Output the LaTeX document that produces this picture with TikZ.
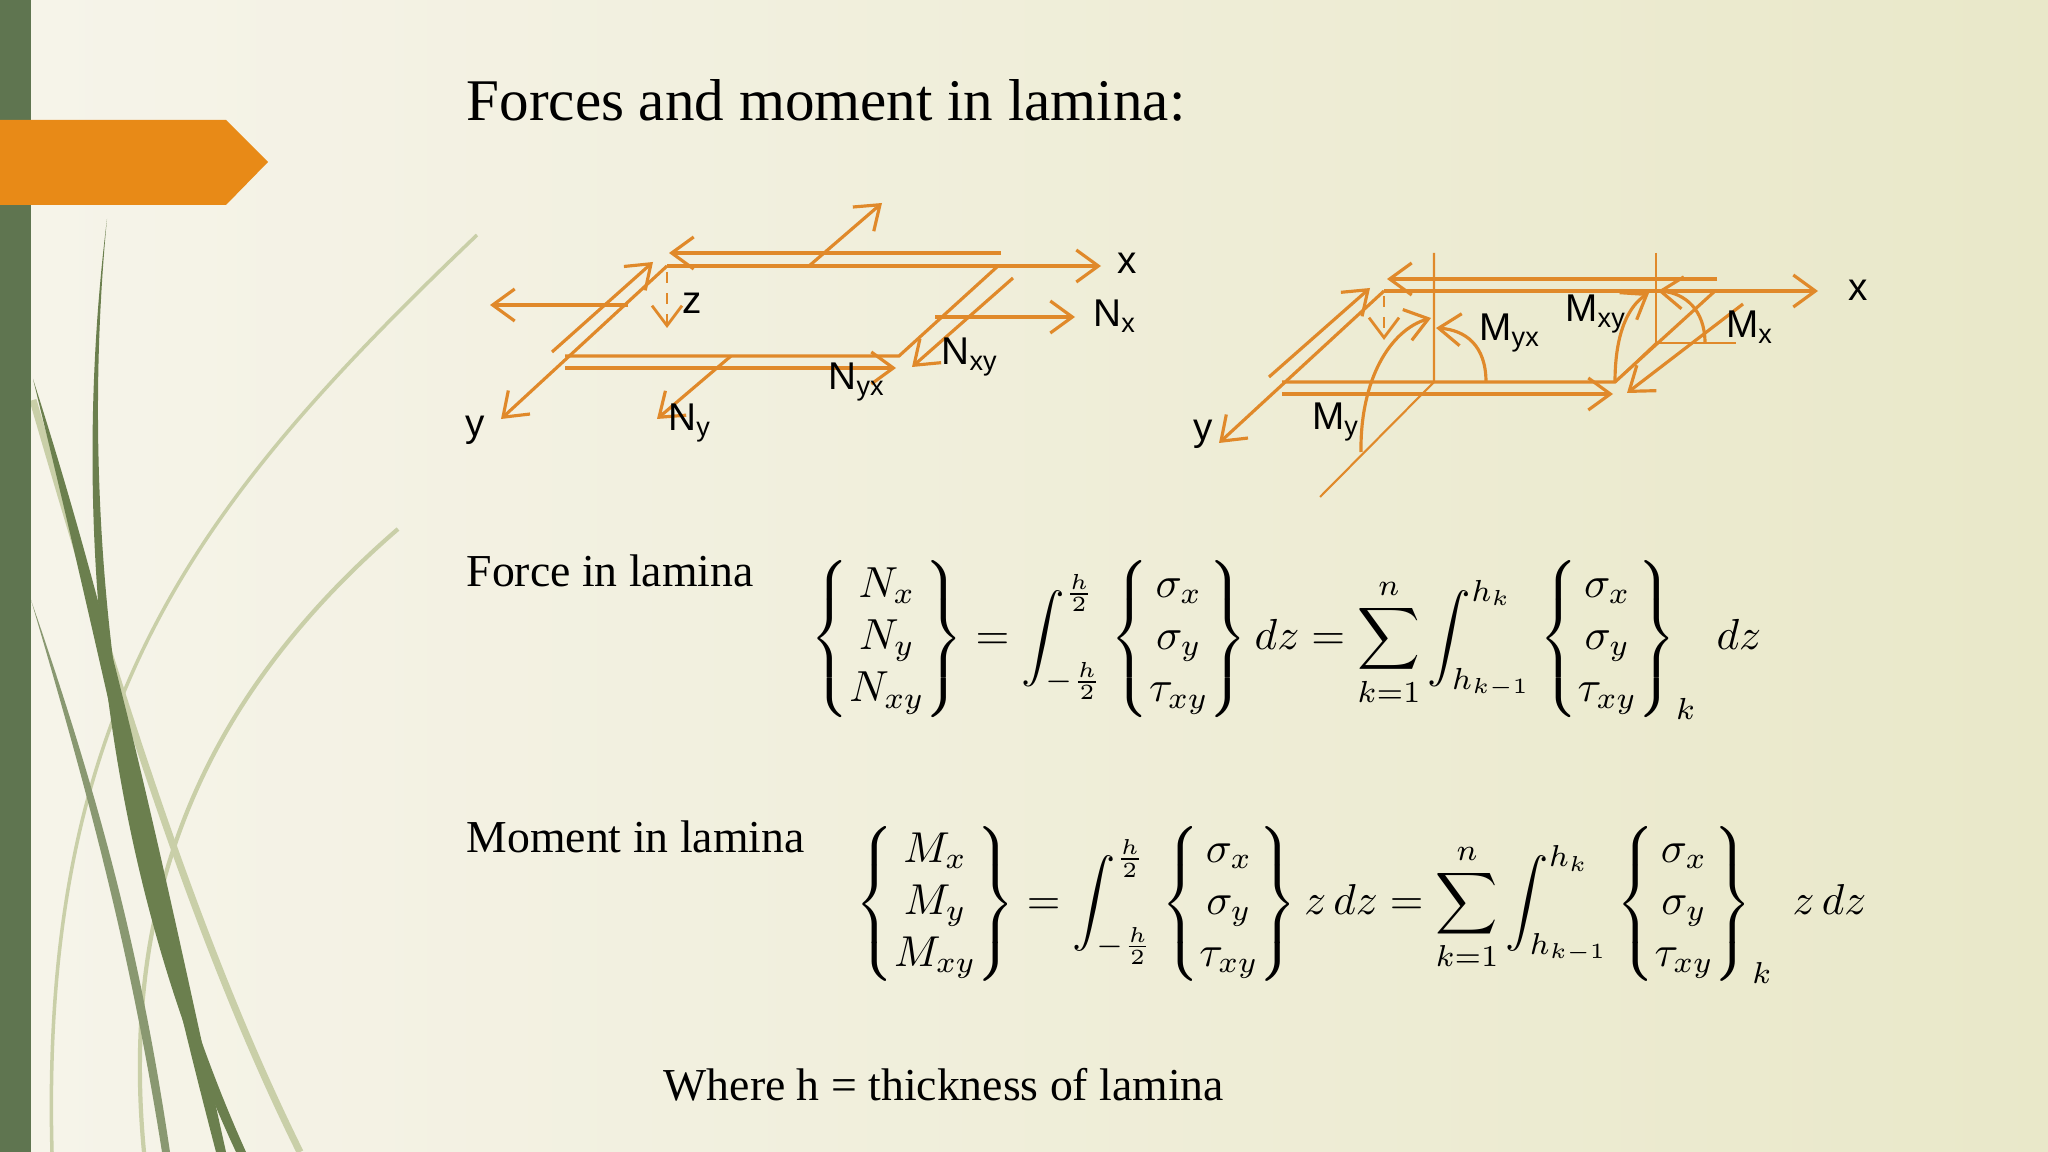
\documentclass[tikz,border=0pt]{standalone}
\usepackage{fontspec}
\usepackage{amsmath}
\usepackage{graphicx}
\setmainfont{Liberation Serif}
\newfontfamily\lblfont{Liberation Sans}
\usetikzlibrary{arrows.meta}
\definecolor{org}{HTML}{E0892A}
\definecolor{bar}{HTML}{5F7550}
\definecolor{tab}{HTML}{E88A17}
\definecolor{bgl}{HTML}{F6F4EA}
\definecolor{bgr}{HTML}{E9E8C9}
\definecolor{blade}{HTML}{6B7F4E}
\definecolor{bladel}{HTML}{C9CFA8}
\tikzset{
  ar/.style={draw=org,line width=0.9pt,-{Straight Barb[length=2.2mm,width=3.2mm]}},
  ln/.style={draw=org,line width=0.9pt},
  thin/.style={draw=org,line width=0.6pt},
  lbl/.style={font=\lblfont\fontsize{11}{13}\selectfont,inner sep=0pt},
  txt/.style={font=\fontsize{13}{15}\selectfont,inner sep=0pt,anchor=west},
}
\begin{document}
\begin{tikzpicture}[x=0.01cm,y=-0.01cm]
\useasboundingbox (0,0) rectangle (2048,1152);
\shade[left color=bgl,right color=bgr] (0,0) rectangle (2048,1152);
% decorative blades
\draw[bladel,line width=1pt] (477,235) .. controls (200,500) and (40,700) .. (52,1152);
\draw[bladel,line width=1.2pt] (398,529) .. controls (200,700) and (120,900) .. (144,1152);
\draw[bladel,line width=2pt] (33,400) .. controls (120,700) and (200,950) .. (300,1152);
\fill[blade] (107,219) .. controls (80,500) and (110,850) .. (246,1152) -- (236,1152) .. controls (95,850) and (72,500) .. (107,219);
\fill[blade] (33,379) .. controls (120,650) and (170,900) .. (226,1152) -- (216,1152) .. controls (150,900) and (100,650) .. (33,379);
\fill[blade!80] (31,600) .. controls (100,800) and (140,950) .. (170,1152) -- (162,1152) .. controls (130,950) and (90,800) .. (31,600);
\fill[bar] (0,0) rectangle (31,1152);
\fill[tab] (0,120) -- (226,120) -- (268,162) -- (226,205) -- (0,205) -- cycle;
% texts
\node[anchor=west,inner sep=0pt,font=\fontsize{16.8}{19}\selectfont] (title) at (466,100) {Forces and moment in lamina:};
\node[txt] (force) at (466,571) {Force in lamina};
\node[txt] (moment) at (466,837) {Moment in lamina};
\node[txt] (where) at (663,1085) {Where h = thickness of lamina};
% equations
\node[anchor=west,inner sep=0pt] (eqf) at (810,640) {\resizebox{9.5cm}{!}{$\displaystyle \left\{\begin{matrix}N_x\\N_y\\N_{xy}\end{matrix}\right\}=\int_{-\frac{h}{2}}^{\frac{h}{2}}\left\{\begin{matrix}\sigma_x\\\sigma_y\\\tau_{xy}\end{matrix}\right\}dz=\sum_{k=1}^{n}\int_{h_{k-1}}^{h_k}\left\{\begin{matrix}\sigma_x\\\sigma_y\\\tau_{xy}\end{matrix}\right\}_k\;dz$}};
\node[anchor=west,inner sep=0pt] (eqm) at (855,905) {\resizebox{10.1cm}{!}{$\displaystyle \left\{\begin{matrix}M_x\\M_y\\M_{xy}\end{matrix}\right\}=\int_{-\frac{h}{2}}^{\frac{h}{2}}\left\{\begin{matrix}\sigma_x\\\sigma_y\\\tau_{xy}\end{matrix}\right\}z\,dz=\sum_{k=1}^{n}\int_{h_{k-1}}^{h_k}\left\{\begin{matrix}\sigma_x\\\sigma_y\\\tau_{xy}\end{matrix}\right\}_k\;z\,dz$}};
% ---- left diagram
\coordinate (A) at (667,266); \coordinate (B) at (998,266);
\coordinate (C) at (899,356); \coordinate (D) at (565,356);
\coordinate (xe) at (1101,266); \coordinate (ye) at (501,419);
\draw[ar] (A) -- (xe);
\draw[ln] (B) -- (C) -- (D);
\draw[ar] (A) -- (ye);
\draw[ar] (1001,253) -- (669,253);
\draw[ar] (809,266) -- (882,203);
\draw[ar] (552,352) -- (653,262);
\draw[ar] (628,305) -- (490,305);
\draw[org,line width=0.8pt,dashed,-{Straight Barb[length=2mm,width=3mm]}] (667,272) -- (667,328);
\draw[ar] (565,368) -- (896,368);
\draw[ar] (731,356) -- (657,419);
\draw[ar] (1013,278) -- (912,367);
\draw[ar] (935,317) -- (1075,317);
\node[lbl] (lx) at (1127,263) {x};
\node[lbl] (lz) at (692,303) {z};
\node[lbl] (ly) at (475,430) {y};
\node[lbl] (lnyx) at (857,382) {N\textsubscript{yx}};
\node[lbl] (lny) at (690,423) {N\textsubscript{y}};
\node[lbl] (lnxy) at (970,357) {N\textsubscript{xy}};
\node[lbl] (lnx) at (1115,316) {N\textsubscript{x}};
% ---- right diagram
\coordinate (P) at (1384,291); \coordinate (Q) at (1715,291);
\coordinate (R) at (1615,382); \coordinate (S) at (1282,382);
\draw[ar] (P) -- (1818,291);
\draw[ar] (1717,279) -- (1387,279);
\draw[ln] (Q) -- (R) -- (S);
\draw[ar] (P) -- (1219,443);
\draw[ar] (1269,377) -- (1370,288);
\draw[org,line width=0.8pt,dashed,-{Straight Barb[length=2mm,width=3mm]}] (1384,296) -- (1384,340);
\draw[thin] (1434,253) -- (1434,382) -- (1320,497);
\draw[thin] (1656,253) -- (1656,343) -- (1736,343);
\draw[thin] (1656,343) -- (1615,382);
\draw[ar] (1743,304) -- (1627,393);
\draw[ar] (1282,394) -- (1613,394);
\draw[ar] (1486,382) .. controls (1486,345) and (1465,330) .. (1436,328);
\draw[ar] (1615,382) .. controls (1615,330) and (1630,305) .. (1649,293);
\draw[ar] (1705,343) .. controls (1705,310) and (1685,293) .. (1658,291);
\draw[ar] (1361,452) .. controls (1360,380) and (1390,330) .. (1431,318);
\node[lbl] (rx) at (1858,290) {x};
\node[lbl] (ry) at (1203,434) {y};
\node[lbl] (rmyx) at (1510,333) {M\textsubscript{yx}};
\node[lbl] (rmxy) at (1596,314) {M\textsubscript{xy}};
\node[lbl] (rmx) at (1750,327) {M\textsubscript{x}};
\node[lbl] (rmy) at (1336,422) {M\textsubscript{y}};
\end{tikzpicture}
\end{document}
